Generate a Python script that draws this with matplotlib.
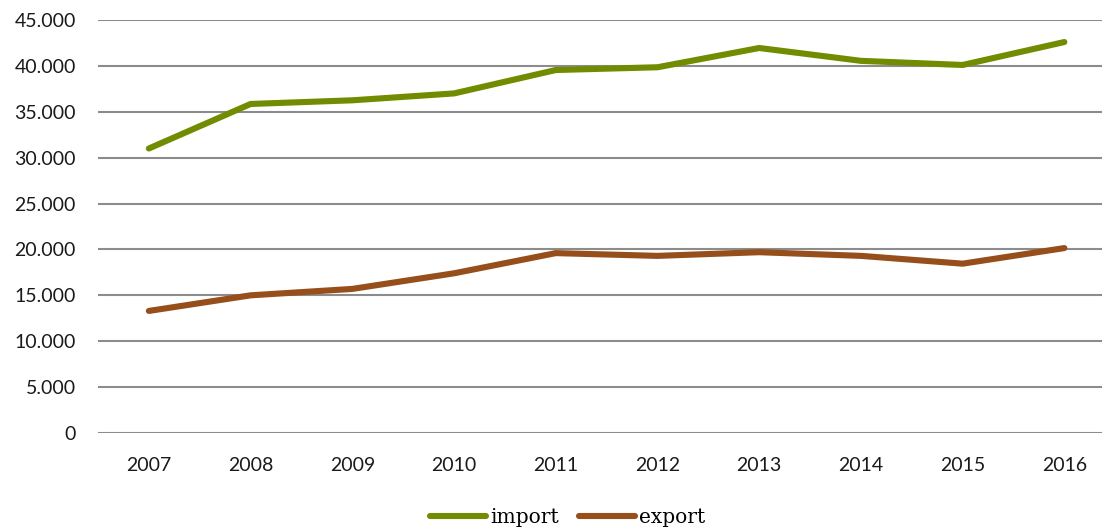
import matplotlib
matplotlib.use("Agg")
import matplotlib.pyplot as plt
from matplotlib.ticker import FuncFormatter

years = ["2007", "2008", "2009", "2010", "2011", "2012", "2013", "2014", "2015", "2016"]
import_vals = [31000, 35850, 36250, 37000, 39550, 39850, 41950, 40550, 40100, 42600]
export_vals = [13300, 15000, 15700, 17400, 19600, 19300, 19700, 19300, 18450, 20150]

fig = plt.figure(figsize=(11.02, 5.29), dpi=100)
ax = fig.add_axes([98 / 1102, 1 - 433 / 529, 1 - 98 / 1102, (433 - 20) / 529])

x = list(range(len(years)))
ax.plot(x, import_vals, color="#718c00", lw=4.4, solid_capstyle="round", label="import")
ax.plot(x, export_vals, color="#964e1b", lw=4.4, solid_capstyle="round", label="export")

ax.set_ylim(0, 45000)
ax.set_yticks(range(0, 45001, 5000))
ax.yaxis.set_major_formatter(FuncFormatter(lambda v, p: f"{int(v):,}".replace(",", ".")))
ax.set_xlim(-0.5, 9.37)
ax.set_xticks(x)
ax.set_xticklabels(years)

ax.grid(axis="y", color="#8c8c8c", lw=1.5)
ax.set_axisbelow(True)
for s in ax.spines.values():
    s.set_visible(False)
ax.tick_params(length=0, labelsize=14, labelcolor="#1a1a1a")
ax.tick_params(axis="y", pad=16)
ax.tick_params(axis="x", pad=17)
for t in ax.get_xticklabels() + ax.get_yticklabels():
    t.set_family("Lato")

fig.legend(loc="lower center", bbox_to_anchor=(0.515, -0.03), ncol=2, frameon=False,
           prop={"family": "DejaVu Serif", "size": 14.5}, handlelength=2.8,
           handletextpad=0.2, columnspacing=1.0)

fig.savefig("out.png", dpi=100)
